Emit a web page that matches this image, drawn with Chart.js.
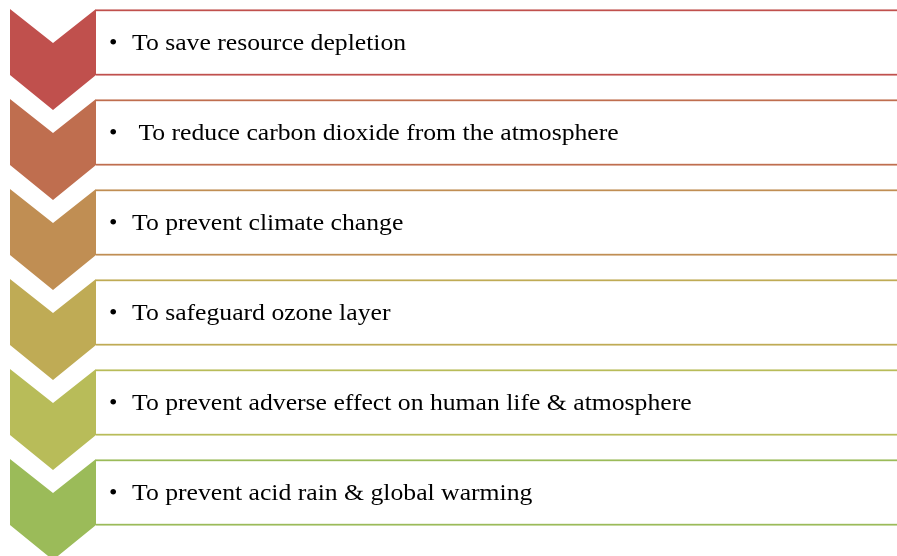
<!DOCTYPE html>
<html>
<head>
<meta charset="utf-8">
<script src="https://cdn.jsdelivr.net/npm/chart.js@4/dist/chart.umd.min.js"></script>
<style>
  html, body { margin: 0; padding: 0; background: #fff; }
  #wrap { width: 897px; height: 556px; position: relative; }
</style>
</head>
<body>
<div id="wrap"><canvas id="chart"></canvas></div>
<script>
// Steps of the list, top to bottom
const items = [
    'To save resource depletion',
    ' To reduce carbon dioxide from the atmosphere',
    'To prevent climate change',
    'To safeguard ozone layer',
    'To prevent adverse effect on human life & atmosphere',
    'To prevent acid rain & global warming'
];
const rows = [0, 1, 2, 3, 4, 5];
const stepColors = ['#C0504D', '#BF6E4F', '#C08E53', '#BFAB55', '#B8BC59', '#9BBB59'];

// layout (pixel units on the x scale)
const BOX_START = 96, BOX_END = 900;
const CHEV_LEFT = 10, CHEV_RIGHT = 96;
const ROW_GAP = 90, FIRST_ROW = 42.5;
const TEXT_STRETCH = 1.07;

// Chevrons + text drawn from the scales
const chevronPlugin = {
    id: 'chevrons',
    afterDatasetsDraw(chart) {
        const { ctx, scales: { x, y } } = chart;
        ctx.save();
        rows.forEach((r, i) => {
            const cy = y.getPixelForValue(r);
            const l = x.getPixelForValue(CHEV_LEFT), rt = x.getPixelForValue(CHEV_RIGHT);
            const mid = (l + rt) / 2;
            const top = cy - 33.5, side = cy + 32.5;
            ctx.beginPath();
            ctx.moveTo(l, top);
            ctx.lineTo(mid, top + 34);
            ctx.lineTo(rt, top);
            ctx.lineTo(rt, side);
            ctx.lineTo(mid, side + 35);
            ctx.lineTo(l, side);
            ctx.closePath();
            ctx.fillStyle = stepColors[i];
            ctx.fill();

            ctx.fillStyle = '#000';
            ctx.textBaseline = 'alphabetic';
            ctx.font = '24px "Liberation Serif", "Times New Roman", serif';
            const base = cy + 7;
            ctx.fillText('\u2022', x.getPixelForValue(109), base);
            ctx.save();
            ctx.translate(x.getPixelForValue(132), base);
            ctx.scale(TEXT_STRETCH, 1);
            ctx.fillText(items[i], 0, 0);
            ctx.restore();
        });
        ctx.restore();
    }
};

new Chart(document.getElementById('chart'), {
    type: 'bar',
    data: {
        labels: items,
        datasets: [{
            data: rows.map(r => ({ x: [BOX_START, BOX_END], y: r })),
            backgroundColor: '#ffffff',
            borderColor: stepColors,
            borderWidth: { top: 2, bottom: 2, left: 0, right: 0 },
            borderSkipped: false,
            barThickness: 66
        }]
    },
    options: {
        indexAxis: 'y',
        responsive: true,
        maintainAspectRatio: false,
        animation: false,
        layout: { padding: 0 },
        plugins: { legend: { display: false }, tooltip: { enabled: false } },
        scales: {
            x: { type: 'linear', display: false, min: 0, max: 897 },
            y: {
                type: 'linear', display: false, reverse: true, offset: false,
                grid: { offset: false },
                min: -FIRST_ROW / ROW_GAP, max: (556 - FIRST_ROW) / ROW_GAP
            }
        }
    },
    plugins: [chevronPlugin]
});
</script>
</body>
</html>
